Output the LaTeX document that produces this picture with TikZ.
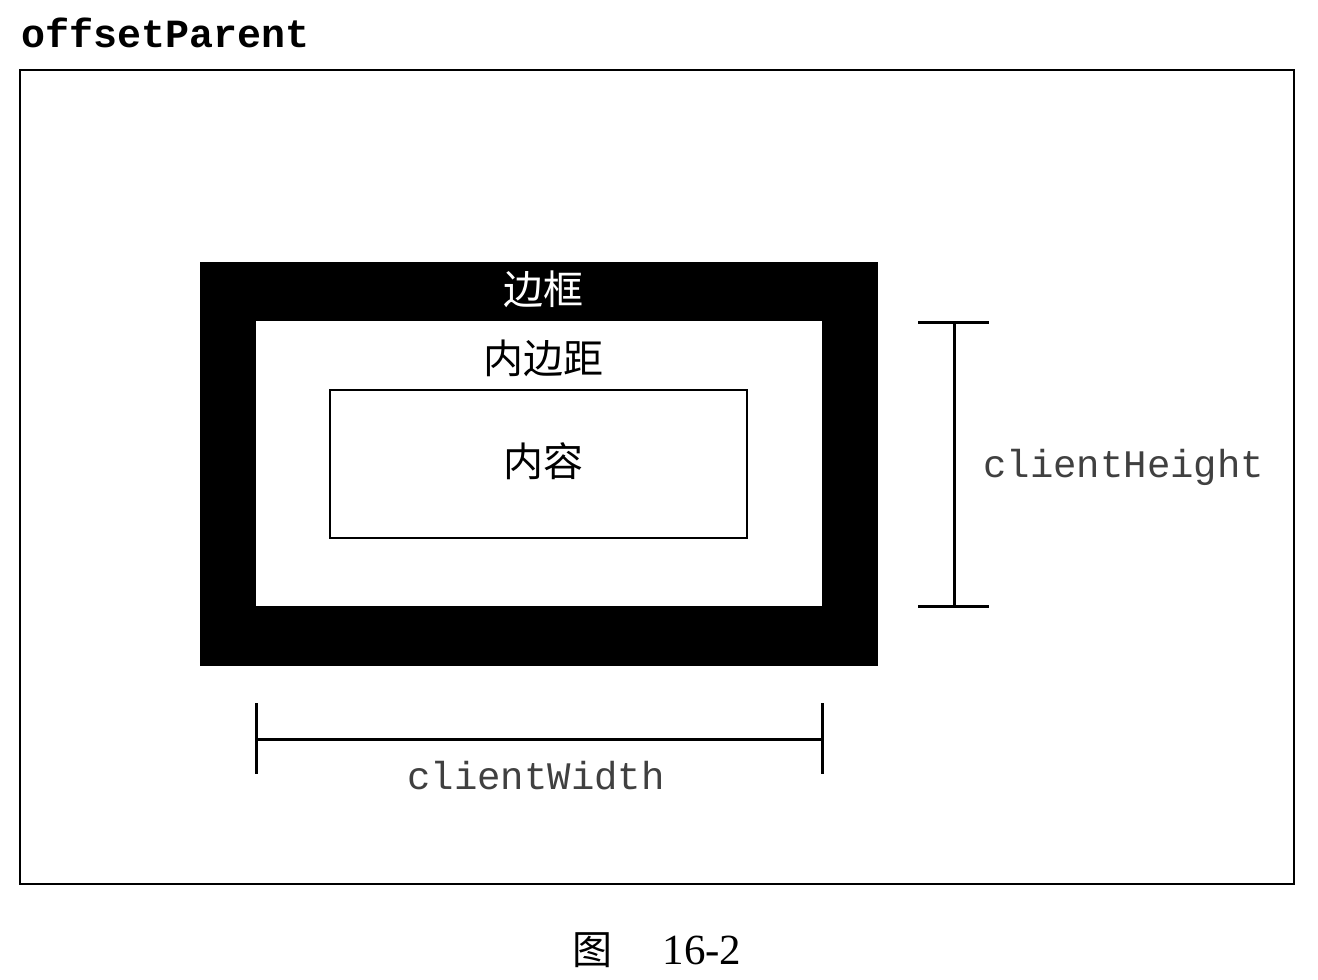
\documentclass[tikz,border=0pt]{standalone}
\usepackage{fontspec}
\setmainfont{Liberation Serif}
\setmonofont{Liberation Mono}
\newfontfamily\cjk{Noto Sans CJK SC}
\usetikzlibrary{positioning}

\begin{document}
\begin{tikzpicture}[x=1pt,y=-1pt,inner sep=0pt,
    cjklabel/.style={anchor=base,font=\cjk\fontsize{40}{40}\selectfont},
    codelabel/.style={anchor=base west,text=black!75,font=\ttfamily\fontsize{39}{39}\selectfont},
    bracket/.style={line width=3pt}]
    \useasboundingbox (0,0) rectangle (1318,980);
    % frame of the offset parent
    \node[codelabel,text=black,font=\ttfamily\bfseries\fontsize{40}{40}\selectfont] (parentlbl) at (21,47) {offsetParent};
    \node[draw,line width=2pt,minimum width=1274,minimum height=814] (parent) at (657,477) {};
    % border, padding, content
    \node[fill=black,minimum width=678,minimum height=404] (border) at (539,464) {};
    \node[fill=white,minimum width=566,minimum height=285] (padding) at (539,463.5) {};
    \node[draw,line width=2pt,minimum width=417,minimum height=148] (content) at (538.5,464) {};
    \node[cjklabel,text=white] (borderlbl) at (543,304) {边框};
    \node[cjklabel] (paddinglbl) at (543,373) {内边距};
    \node[cjklabel] (contentlbl) at (543,476) {内容};
    % clientHeight
    \coordinate (htop) at (954,322);
    \coordinate (hbot) at (954,606);
    \draw[bracket] (htop) -- (hbot);
    \draw[bracket] (htop) ++(-36,0) -- ++(71,0);
    \draw[bracket] (hbot) ++(-36,0) -- ++(71,0);
    \node[codelabel] (heightlbl) at (983,477) {clientHeight};
    % clientWidth
    \coordinate (wleft) at (256,739);
    \coordinate (wright) at (822,739);
    \draw[bracket] (wleft) -- (wright);
    \draw[bracket] (wleft) ++(0,-36) -- ++(0,71);
    \draw[bracket] (wright) ++(0,-36) -- ++(0,71);
    \node[codelabel] (widthlbl) at (407,789) {clientWidth};
    % caption
    \node[anchor=base,font=\fontsize{43}{43}\selectfont] (caption) at (657,964) {{\cjk\fontsize{40}{40}\selectfont 图}\hspace{50pt}16-2};
\end{tikzpicture}
\end{document}
